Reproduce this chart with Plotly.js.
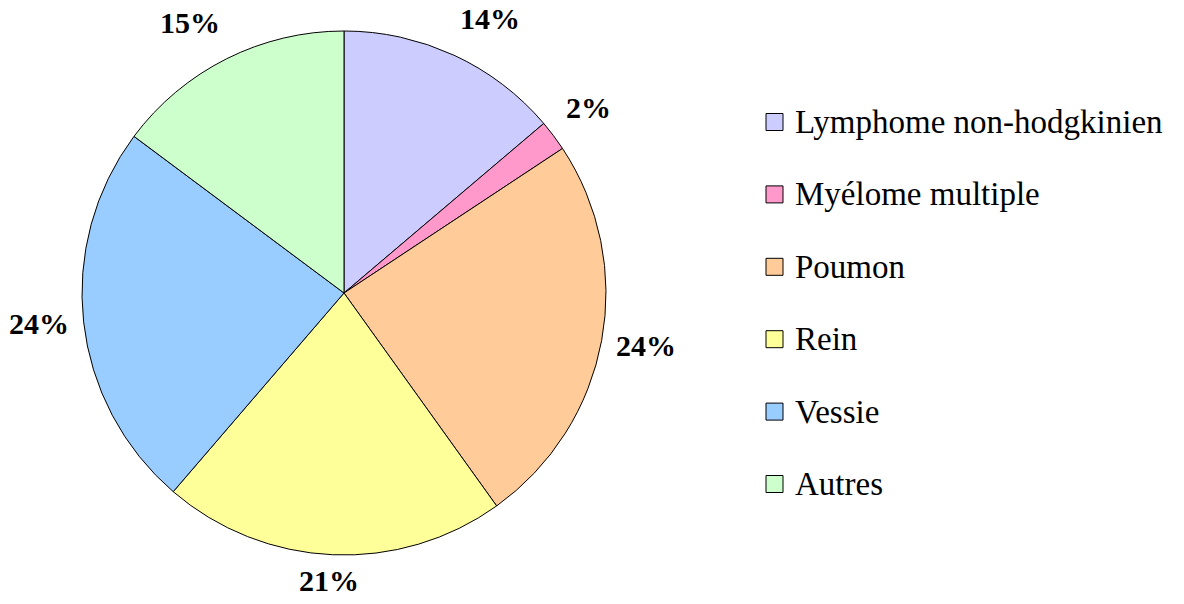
<!DOCTYPE html>
<html>
<head>
<meta charset="utf-8">
<script src="https://cdn.plot.ly/plotly-3.0.1.min.js"></script>
<style>html,body{margin:0;padding:0;background:#fff;}#chart{width:1184px;height:604px;}</style>
</head>
<body>
<div id="chart"></div>
<script>
const categories = ["Lymphome non-hodgkinien", "Myélome multiple", "Poumon", "Rein", "Vessie", "Autres"];
const values = [13.8, 1.9, 24.4, 21.2, 23.9, 14.8];
const percentLabels = ["14%", "2%", "24%", "21%", "24%", "15%"];
const colors = ["#CCCCFF", "#FF99CC", "#FFCC99", "#FFFF99", "#99CCFF", "#CCFFCC"];

const W = 1184, H = 604;
const cx = 344, cy = 293, r = 262;
const serif = "Liberation Serif, Times New Roman, serif";

const trace = {
  type: "pie",
  labels: categories,
  values: values,
  sort: false,
  direction: "clockwise",
  rotation: 0,
  marker: {colors: colors, line: {color: "#000000", width: 1}},
  textinfo: "none",
  domain: {x: [(cx - r) / W, (cx + r) / W], y: [1 - (cy + r) / H, 1 - (cy - r) / H]},
  hoverinfo: "label+percent",
  showlegend: false
};

const shapes = [], annotations = [];

// Percentage labels placed outside each slice at its mid angle
const total = values.reduce((a, b) => a + b, 0);
const fs = 30, gap = 15, k = 2.5, lift = 4;
let cum = 0;
values.forEach((v, i) => {
  const mid = (cum + v / 2) / total * 2 * Math.PI;
  cum += v;
  const s = Math.sin(mid), c = Math.cos(mid);
  const ax = cx + (r + gap) * s, ay = cy - (r + gap) * c;
  const txt = percentLabels[i];
  const w = ((txt.length - 1) * 0.5 + 1.0) * fs, h = fs;
  const clamp = t => Math.max(-1, Math.min(1, t));
  const px = ax + (w / 2) * clamp(k * s);
  const py = ay - (h / 2) * clamp(k * c) - lift - (c > 0.8 ? 4 : 0);
  annotations.push({
    xref: "paper", yref: "paper", x: px / W, y: 1 - py / H,
    xanchor: "center", yanchor: "middle", showarrow: false,
    text: "<b>" + txt + "</b>",
    font: {family: serif, size: fs, color: "#000000"}
  });
});

// Legend drawn from the category / colour arrays
const legX = 766, legY0 = 122, legStep = 72.4, box = 17;
categories.forEach((c, i) => {
  const yc = legY0 + i * legStep;
  shapes.push({
    type: "rect", xref: "paper", yref: "paper",
    x0: legX / W, x1: (legX + box) / W,
    y0: 1 - (yc - box / 2) / H, y1: 1 - (yc + box / 2) / H,
    fillcolor: colors[i], line: {color: "#000000", width: 1}
  });
  annotations.push({
    xref: "paper", yref: "paper",
    x: (legX + box + 10) / W, y: 1 - yc / H,
    xanchor: "left", yanchor: "middle",
    text: c, showarrow: false,
    font: {family: serif, size: 33, color: "#000000"}
  });
});

const layout = {
  width: W, height: H,
  margin: {l: 0, r: 0, t: 0, b: 0},
  paper_bgcolor: "#ffffff",
  showlegend: false,
  shapes: shapes,
  annotations: annotations
};

Plotly.newPlot("chart", [trace], layout, {displayModeBar: false, staticPlot: true});
</script>
</body>
</html>
